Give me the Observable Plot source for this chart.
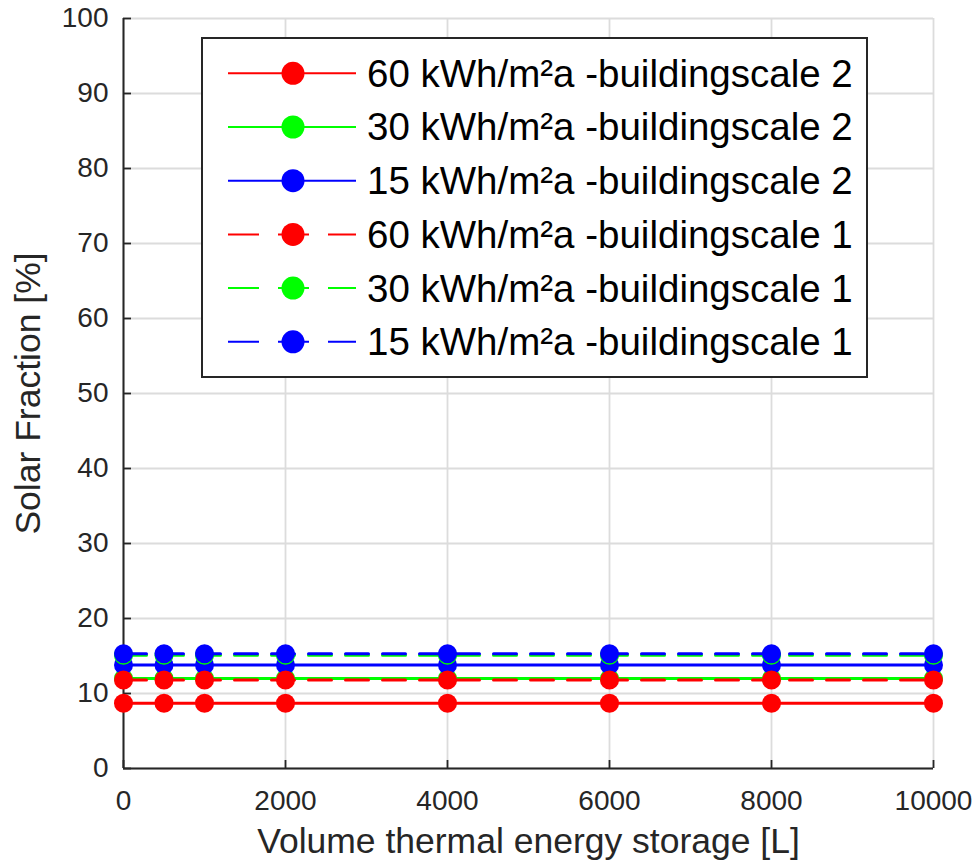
<!DOCTYPE html>
<html><head><meta charset="utf-8">
<script src="https://cdn.jsdelivr.net/npm/d3@7"></script>
<script src="https://cdn.jsdelivr.net/npm/@observablehq/plot@0.6"></script>
<style>
html,body{margin:0;padding:0;background:#fff;}
#wrap{position:relative;width:976px;height:867px;font-family:"Liberation Sans",Arial,Helvetica,sans-serif;}
#wrap svg{display:block;}
#legend{position:absolute;left:0;top:0;pointer-events:none;}
</style></head><body><div id="wrap"></div>
<script>
// ---- data ----
const volumes = [0, 500, 1000, 2000, 4000, 6000, 8000, 10000];
const sf60bs2 = [8.7, 8.7, 8.7, 8.7, 8.7, 8.7, 8.7, 8.7];
const sf30bs2 = [12.0, 12.0, 12.0, 12.0, 12.0, 12.0, 12.0, 12.0];
const sf15bs2 = [13.8, 13.8, 13.8, 13.8, 13.8, 13.8, 13.8, 13.8];
const sf60bs1 = [11.8, 11.8, 11.8, 11.8, 11.8, 11.8, 11.8, 11.8];
const sf30bs1 = [15.1, 15.1, 15.1, 15.1, 15.1, 15.1, 15.1, 15.1];
const sf15bs1 = [15.3, 15.3, 15.3, 15.3, 15.3, 15.3, 15.3, 15.3];
const seriesValues = [sf60bs2, sf30bs2, sf15bs2, sf60bs1, sf30bs1, sf15bs1];
const seriesLabels = [
  "60 kWh/m²a -buildingscale 2",
  "30 kWh/m²a -buildingscale 2",
  "15 kWh/m²a -buildingscale 2",
  "60 kWh/m²a -buildingscale 1",
  "30 kWh/m²a -buildingscale 1",
  "15 kWh/m²a -buildingscale 1"
];
const seriesColors = ["#ff0000", "#00ff00", "#0000ff", "#ff0000", "#00ff00", "#0000ff"];
const seriesDashed = [false, false, false, true, true, true];
const xTicks = [0, 2000, 4000, 6000, 8000, 10000];
const yTicks = [0, 10, 20, 30, 40, 50, 60, 70, 80, 90, 100];
const xLabel = "Volume thermal energy storage [L]";
const yLabel = "Solar Fraction [%]";

// ---- chart ----
const W = 976, H = 867;
const mL = 123, mR = 43, mT = 18, mB = 99;
const axisColor = "#262626";
const gridStyle = {stroke: "#dcdcdc", strokeOpacity: 1, strokeWidth: 1.8};

const seriesMarks = [];
seriesValues.forEach((vals, i) => {
  const rows = volumes.map((v, j) => ({volume: v, value: vals[j]}));
  seriesMarks.push(Plot.line(rows, {
    x: "volume", y: "value", stroke: seriesColors[i], strokeWidth: 3,
    strokeDasharray: seriesDashed[i] ? "23,14" : null
  }));
  seriesMarks.push(Plot.dot(rows, {
    x: "volume", y: "value", r: 9.5, fill: seriesColors[i], stroke: "none"
  }));
});

const chart = Plot.plot({
  width: W, height: H,
  marginLeft: mL, marginRight: mR, marginTop: mT, marginBottom: mB,
  style: {fontFamily: '"Liberation Sans", Arial, Helvetica, sans-serif', color: axisColor, background: "#fff", overflow: "visible"},
  x: {domain: [0, 10000], nice: false},
  y: {domain: [0, 100], nice: false},
  marks: [
    Plot.gridX(xTicks, gridStyle),
    Plot.gridY(yTicks, gridStyle),
    Plot.ruleX([0], {stroke: axisColor, strokeWidth: 2}),
    Plot.ruleY([0], {stroke: axisColor, strokeWidth: 2}),
    Plot.axisX(xTicks, {tickSize: -8, tickPadding: 30, fontSize: 28, strokeWidth: 1.8, tickFormat: d => String(d), label: null}),
    Plot.axisY(yTicks, {tickSize: -8, tickPadding: 23, fontSize: 28, strokeWidth: 1.8, tickFormat: d => String(d), label: null}),
    ...seriesMarks,
    Plot.text([xLabel], {text: d => d, frameAnchor: "bottom", dy: 84, fontSize: 35.5, lineAnchor: "bottom", textAnchor: "middle", fill: axisColor}),
    Plot.text([yLabel], {text: d => d, frameAnchor: "left", dx: -95, rotate: -90, fontSize: 35.5, lineAnchor: "middle", textAnchor: "middle", fill: axisColor})
  ]
});
document.getElementById("wrap").appendChild(chart);

// ---- legend overlay ----
const leg = d3.select("#wrap").append("svg").attr("id", "legend").attr("width", W).attr("height", H);
const box = {x: 202, y: 38, w: 665, h: 339};
leg.append("rect").attr("x", box.x).attr("y", box.y).attr("width", box.w).attr("height", box.h)
  .attr("fill", "#fff").attr("stroke", axisColor).attr("stroke-width", 2);
const rowY0 = 73.3, rowStep = 53.7;
seriesLabels.forEach((lab, i) => {
  const cy = rowY0 + i * rowStep;
  const c = seriesColors[i];
  leg.append("line").attr("x1", 228).attr("x2", 356).attr("y1", cy).attr("y2", cy)
    .attr("stroke", c).attr("stroke-width", 2)
    .attr("stroke-dasharray", seriesDashed[i] ? "31,19" : null);
  leg.append("circle").attr("cx", 293).attr("cy", cy).attr("r", 11.5).attr("fill", c);
  leg.append("text").attr("x", 367).attr("y", cy).attr("dy", "0.35em")
    .attr("font-size", 38.5).attr("fill", "#000")
    .attr("font-family", '"Liberation Sans", Arial, Helvetica, sans-serif')
    .text(lab);
});
</script></body></html>
